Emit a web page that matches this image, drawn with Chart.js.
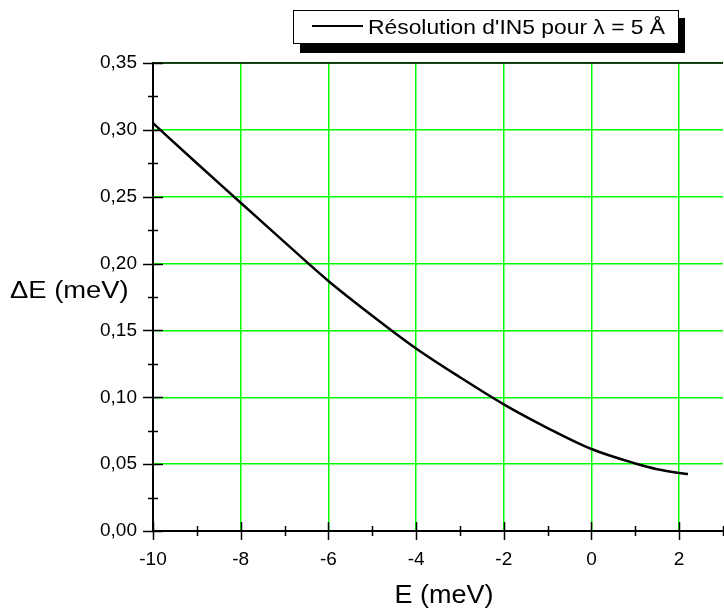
<!DOCTYPE html>
<html>
<head>
<meta charset="utf-8">
<script src="https://cdn.jsdelivr.net/npm/chart.js@4.4.0/dist/chart.umd.min.js"></script>
<style>
  html, body { margin: 0; padding: 0; background: #fff; }
  #wrap { width: 724px; height: 609px; }
</style>
</head>
<body>
<div id="wrap"><canvas id="chart" width="724" height="609"></canvas></div>
<script>
// values
const energies = [-10, -9, -8, -7, -6, -5, -4, -3, -2, -1, 0, 1, 1.5, 2, 2.2];
const resolution = [0.305, 0.275, 0.2455, 0.216, 0.187, 0.161, 0.1365, 0.115, 0.0947, 0.077, 0.0613, 0.0505, 0.0462, 0.0434, 0.0426];
const seriesLabel = "Résolution d'IN5 pour λ = 5 Å";
const xTitle = 'E (meV)';
const yTitle = 'ΔE (meV)';

const FONT = '"Liberation Sans", Arial, sans-serif';
const GREEN = '#00ff00';

// text in the original is a bit wider than Arial, so stretch it horizontally
function wideText(ctx, text, x, y, sx) {
  ctx.save();
  ctx.translate(x, y);
  ctx.scale(sx, 1);
  ctx.fillText(text, 0, 0);
  ctx.restore();
}

// crossing ticks, top frame line, titles and the shadowed legend box
const decorPlugin = {
  id: 'decor',
  afterDraw(chart) {
    const { ctx, chartArea, scales } = chart;
    const xs = scales.x, ys = scales.y;
    ctx.save();
    ctx.strokeStyle = '#000';
    ctx.lineWidth = 1.5;

    // top line
    ctx.beginPath();
    ctx.moveTo(chartArea.left, chartArea.top);
    ctx.lineTo(chartArea.right, chartArea.top);
    ctx.stroke();

    // x ticks
    for (let v = -10; v <= 3; v++) {
      const px = Math.round(xs.getPixelForValue(v)) + 0.5;
      const len = v % 2 === 0 ? 9 : 5;
      ctx.beginPath();
      ctx.moveTo(px, chartArea.bottom - len);
      ctx.lineTo(px, chartArea.bottom + len);
      ctx.stroke();
    }
    // y ticks
    for (let i = 0; i <= 14; i++) {
      const py = Math.round(ys.getPixelForValue(i * 0.025)) + 0.5;
      const len = i % 2 === 0 ? 10 : 5;
      ctx.beginPath();
      ctx.moveTo(chartArea.left - len, py);
      ctx.lineTo(chartArea.left + len, py);
      ctx.stroke();
    }

    ctx.fillStyle = '#000';
    ctx.textAlign = 'left';
    ctx.textBaseline = 'alphabetic';

    // y title, horizontal
    ctx.font = '23px ' + FONT;
    wideText(ctx, yTitle, 10, 298, 1.19);

    // x title
    ctx.font = '25px ' + FONT;
    const w = ctx.measureText(xTitle).width * 1.08;
    wideText(ctx, xTitle, 444 - w / 2, 603, 1.08);

    // legend
    ctx.fillRect(300, 18, 385, 35);
    ctx.fillStyle = '#fff';
    ctx.fillRect(293, 10, 385, 34);
    ctx.lineWidth = 1;
    ctx.strokeRect(293.5, 10.5, 385, 33);
    ctx.lineWidth = 2;
    ctx.beginPath();
    ctx.moveTo(312, 26);
    ctx.lineTo(363, 26);
    ctx.stroke();
    ctx.fillStyle = '#000';
    ctx.font = '21px ' + FONT;
    wideText(ctx, seriesLabel, 368, 34, 1.088);
    ctx.restore();
  }
};

new Chart(document.getElementById('chart'), {
  type: 'line',
  data: {
    datasets: [{
      label: seriesLabel,
      data: energies.map((e, i) => ({ x: e, y: resolution[i] })),
      borderColor: '#000',
      borderWidth: 2.5,
      pointRadius: 0,
      fill: false,
      cubicInterpolationMode: 'monotone'
    }]
  },
  options: {
    responsive: false,
    animation: false,
    layout: { padding: { top: 63, right: 1, left: 0, bottom: 0 } },
    plugins: { legend: { display: false }, tooltip: { enabled: false } },
    scales: {
      x: {
        type: 'linear',
        min: -10,
        max: 3,
        afterFit(scale) {
          scale.height = 78;
          scale.paddingLeft = 0;
          scale.paddingRight = 0;
        },
        ticks: {
          stepSize: 1,
          autoSkip: false,
          maxRotation: 0,
          padding: 17,
          color: '#000',
          font: { family: FONT, size: 19 },
          callback: v => (v % 2 === 0 ? String(v) : '')
        },
        grid: {
          drawTicks: false,
          lineWidth: 1.5,
          color: c => (c.tick && c.tick.value % 2 === 0 ? GREEN : 'rgba(0,0,0,0)')
        },
        border: { display: true, color: '#000', width: 2 }
      },
      y: {
        min: 0,
        max: 0.35,
        afterFit(scale) { scale.width = 153; },
        ticks: {
          stepSize: 0.025,
          autoSkip: false,
          padding: 16,
          color: '#000',
          font: { family: FONT, size: 19 },
          callback: v => (Math.round(v / 0.025) % 2 === 0 ? v.toFixed(2).replace('.', ',') : '')
        },
        grid: {
          drawTicks: false,
          lineWidth: 1.5,
          color: c => (c.tick && Math.round(c.tick.value / 0.025) % 2 === 0 ? GREEN : 'rgba(0,0,0,0)')
        },
        border: { display: true, color: '#000', width: 2 }
      }
    }
  },
  plugins: [decorPlugin]
});
</script>
</body>
</html>
